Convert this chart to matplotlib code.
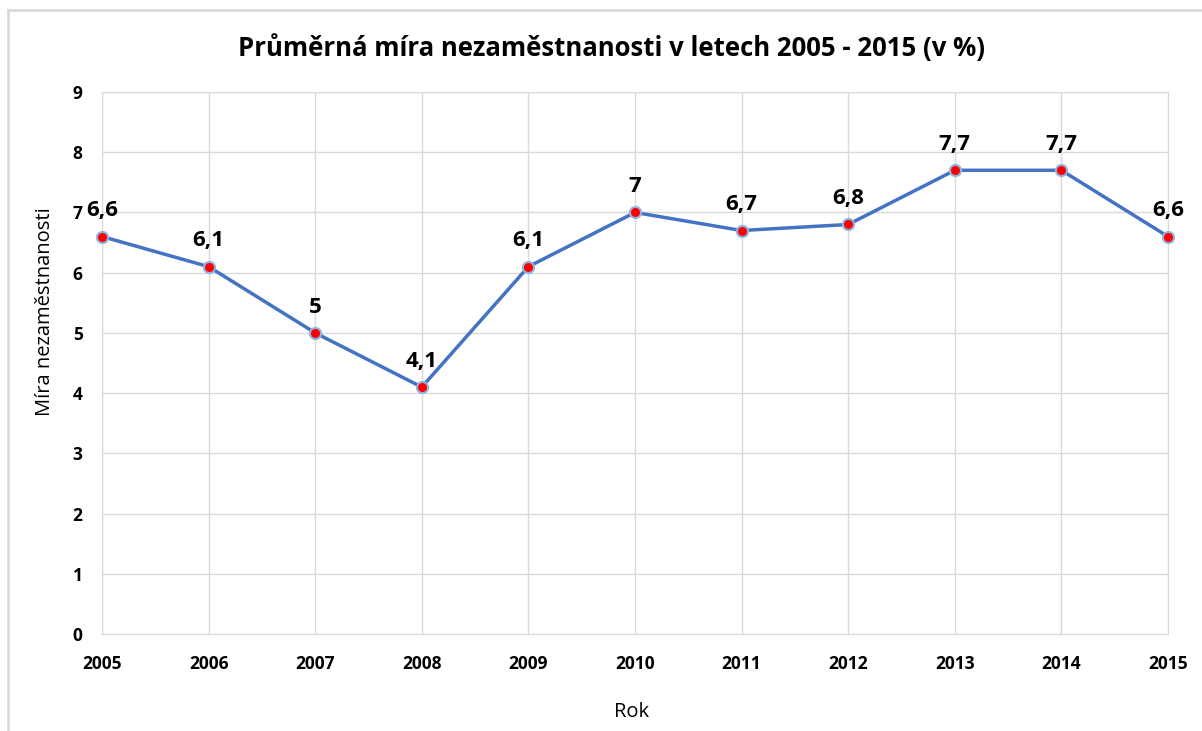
import matplotlib.pyplot as plt
from matplotlib.lines import Line2D

# data
roky = [2005, 2006, 2007, 2008, 2009, 2010, 2011, 2012, 2013, 2014, 2015]
mira = [6.6, 6.1, 5.0, 4.1, 6.1, 7.0, 6.7, 6.8, 7.7, 7.7, 6.6]
popisky = ['6,6', '6,1', '5', '4,1', '6,1', '7', '6,7', '6,8', '7,7', '7,7', '6,6']

plt.rcParams['font.family'] = ['Open Sans', 'DejaVu Sans']

fig = plt.figure(figsize=(12.02, 7.31), dpi=100)
ax = fig.add_axes([102 / 1202, 1 - 634 / 731, 1066 / 1202, 542 / 731])

ax.plot(roky, mira, color='#4472C4', linewidth=2.5, zorder=3,
        marker='o', markersize=8, markerfacecolor='#FF0000',
        markeredgecolor='#8FB4E3', markeredgewidth=1.5, clip_on=False)

for x, y, t in zip(roky, mira, popisky):
    ax.annotate(t, (x, y), xytext=(0, 11), textcoords='offset points',
                ha='center', va='bottom', fontsize=16, fontweight='bold',
                color='#000000')

ax.set_xlim(2005, 2015)
ax.set_ylim(0, 9)
ax.set_xticks(roky)
ax.set_yticks(range(0, 10))
ax.grid(True, color='#D9D9D9', linewidth=1)
ax.set_axisbelow(True)
for s in ax.spines.values():
    s.set_color('#D9D9D9')
ax.tick_params(length=0, labelsize=12.5, colors='#000000')
ax.tick_params(axis='x', pad=15)
ax.tick_params(axis='y', pad=14)
for lab in ax.get_xticklabels() + ax.get_yticklabels():
    lab.set_fontweight('bold')

ax.set_xlabel('Rok', fontsize=14.5)
ax.set_ylabel('Míra nezaměstnanosti', fontsize=14.5)
ax.xaxis.set_label_coords(632 / 1066 - 102 / 1066 + 0.0, -(712 - 634) / 542)
ax.yaxis.set_label_coords(-(102 - 45) / 1066, (634 - 312) / 542)
ax.xaxis.label.set_va('center')
ax.yaxis.label.set_va('center')

fig.text(611 / 1202, 1 - 48 / 731, 'Průměrná míra nezaměstnanosti v letech 2005 - 2015 (v %)',
         ha='center', va='center', fontsize=18.5, fontweight='bold')

# ramecek grafu
fig.add_artist(Line2D([8 / 1202, 8 / 1202], [0, 1 - 10 / 731], color='#D9D9D9', linewidth=2))
fig.add_artist(Line2D([8 / 1202, 1], [1 - 10 / 731, 1 - 10 / 731], color='#D9D9D9', linewidth=2))

fig.savefig('out.png', dpi=100)
